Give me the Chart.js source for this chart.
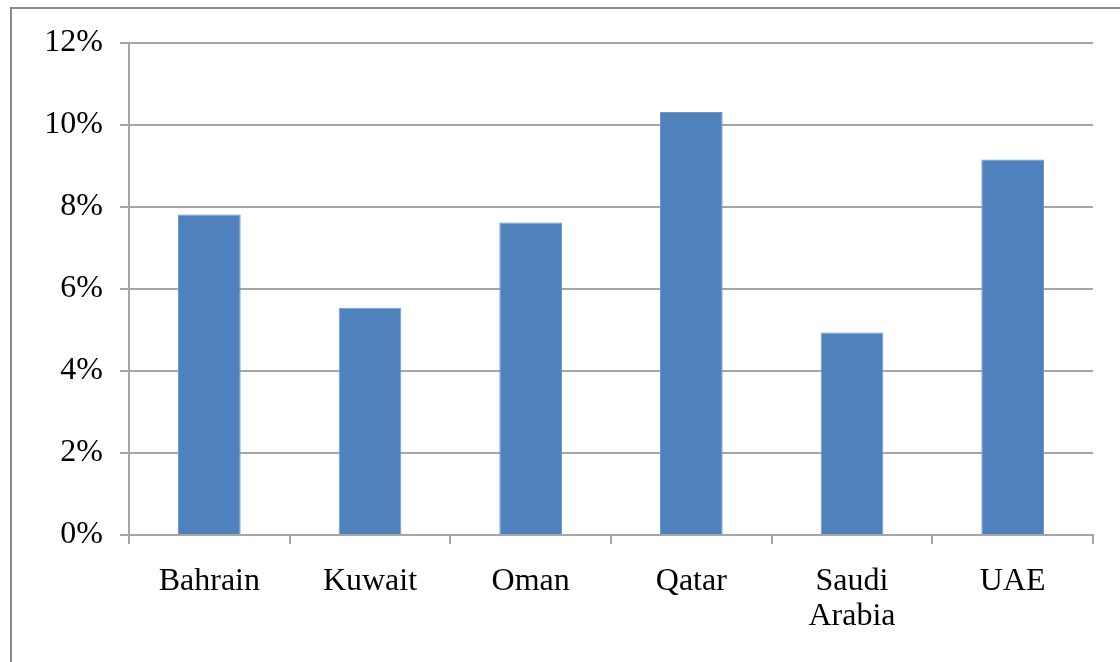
<!DOCTYPE html>
<html>
<head>
<meta charset="utf-8">
<script src="https://cdn.jsdelivr.net/npm/chart.js@4"></script>
<style>
  html, body { margin: 0; padding: 0; background: #ffffff; overflow: hidden; }
  #wrap { position: relative; width: 1120px; height: 662px; }
  #frame {
    position: absolute; left: 10px; top: 7px; width: 1200px; height: 700px;
    border-left: 2px solid #8a8a8a; border-top: 2px solid #8a8a8a;
  }
  canvas { position: absolute; left: 0; top: 0; }
</style>
</head>
<body>
<div id="wrap">
  <div id="frame"></div>
  <canvas id="chart" width="1120" height="662"></canvas>
</div>
<script>
// GCC countries and their rates (percent)
const countries = ['Bahrain', 'Kuwait', 'Oman', 'Qatar', ['Saudi', 'Arabia'], 'UAE'];
const rates = [7.82, 5.54, 7.62, 10.32, 4.94, 9.16];
const yTicks = [0, 2, 4, 6, 8, 10, 12];

const gridGray = '#a6a6a6';
const font = { family: '"Liberation Serif", "Times New Roman", serif', size: 32, lineHeight: 1.1 };

new Chart(document.getElementById('chart'), {
  type: 'bar',
  data: {
    labels: countries,
    datasets: [{
      data: rates,
      backgroundColor: '#4f81bd',
      borderColor: '#6f97c9',
      borderWidth: 1,
      barPercentage: 0.39,
      categoryPercentage: 1.0
    }]
  },
  options: {
    responsive: false,
    animation: false,
    devicePixelRatio: 1,
    layout: { padding: { left: 0, top: 43, right: 27, bottom: 0 } },
    plugins: { legend: { display: false }, tooltip: { enabled: false } },
    scales: {
      x: {
        grid: {
          offset: true,
          drawOnChartArea: false,
          drawTicks: true,
          tickLength: 9,
          color: gridGray,
          lineWidth: 2
        },
        border: { color: gridGray, width: 2 },
        ticks: { color: '#000000', font: font, padding: 20, maxRotation: 0 },
        afterFit: (s) => { s.height = 127; }
      },
      y: {
        min: 0,
        max: 12,
        afterBuildTicks: (s) => { s.ticks = yTicks.map(v => ({ value: v })); },
        grid: {
          color: gridGray,
          lineWidth: 2,
          drawTicks: true,
          tickLength: 9
        },
        border: { color: gridGray, width: 2 },
        ticks: {
          color: '#000000',
          font: font,
          padding: 17,
          callback: (v) => v + '%'
        },
        afterFit: (s) => { s.width = 129; }
      }
    }
  }
});
</script>
</body>
</html>
